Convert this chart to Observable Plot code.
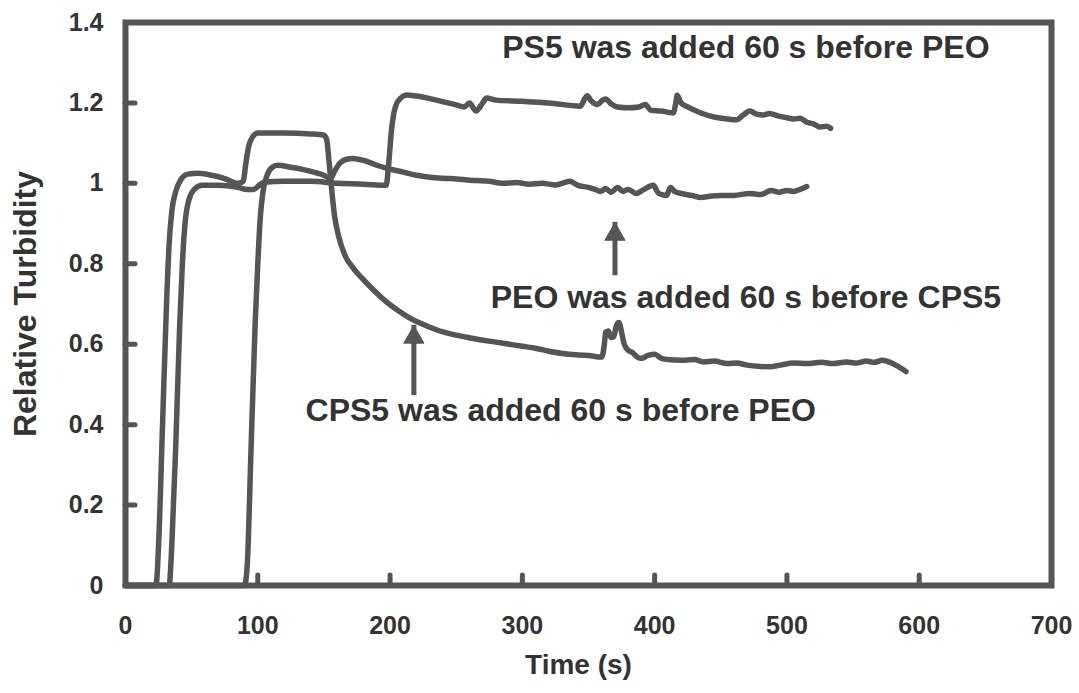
<!DOCTYPE html>
<html>
<head>
<meta charset="utf-8">
<script src="https://cdn.jsdelivr.net/npm/d3@7"></script>
<script src="https://cdn.jsdelivr.net/npm/@observablehq/plot@0.6"></script>
<style>
  html, body { margin: 0; padding: 0; background: #fff; }
  #chart svg { display: block; }
</style>
</head>
<body>
<div id="chart"></div>
<script>
// Relative turbidity traces (time in s)
const psTime  = [0, 33, 35, 38, 41, 43, 45, 48, 52, 58, 70, 85, 92, 97, 101, 105, 120, 140, 160, 180, 197, 199, 201, 204, 208, 213, 220, 235, 250, 256, 260, 265, 270, 273, 280, 300, 320, 344, 347, 349, 352, 357, 360, 363, 367, 372, 380, 388, 393, 397, 405, 414, 416, 417, 420, 425, 435, 445, 455, 462, 467, 472, 477, 482, 487, 493, 500, 505, 510, 515, 520, 525, 530, 533];
const psValue = [0, 0, 0.1, 0.35, 0.65, 0.8, 0.9, 0.96, 0.985, 0.995, 0.995, 0.99, 0.985, 0.985, 0.995, 1.003, 1.005, 1.005, 1.0, 0.998, 0.995, 1.05, 1.13, 1.19, 1.212, 1.22, 1.217, 1.207, 1.195, 1.19, 1.2, 1.18, 1.2, 1.212, 1.207, 1.204, 1.2, 1.192, 1.21, 1.218, 1.205, 1.196, 1.205, 1.21, 1.198, 1.19, 1.188, 1.19, 1.196, 1.182, 1.18, 1.175, 1.2, 1.219, 1.2, 1.19, 1.175, 1.165, 1.16, 1.158, 1.17, 1.18, 1.172, 1.17, 1.174, 1.168, 1.163, 1.16, 1.162, 1.152, 1.148, 1.14, 1.142, 1.137];

const peoTime  = [0, 90, 92, 95, 98, 100, 102, 104, 107, 111, 115, 125, 140, 150, 155, 158, 162, 167, 172, 180, 190, 198, 210, 220, 230, 245, 260, 275, 285, 296, 305, 315, 325, 336, 342, 350, 355, 359, 363, 367, 372, 376, 380, 386, 392, 399, 403, 409, 412, 415, 420, 428, 435, 442, 450, 460, 472, 480, 488, 494, 500, 505, 510, 515];
const peoValue = [0, 0, 0.05, 0.35, 0.65, 0.8, 0.92, 0.98, 1.02, 1.04, 1.045, 1.04, 1.03, 1.02, 1.012, 1.03, 1.05, 1.06, 1.062, 1.057, 1.045, 1.037, 1.028, 1.02, 1.015, 1.012, 1.008, 1.005, 1.0, 1.002, 0.998, 1.0, 0.996, 1.005, 0.995, 0.99, 0.985, 0.98, 0.987, 0.978, 0.99, 0.98, 0.985, 0.975, 0.985, 0.995, 0.975, 0.97, 0.99, 0.98, 0.975, 0.97, 0.965, 0.968, 0.97, 0.97, 0.975, 0.972, 0.982, 0.978, 0.982, 0.98, 0.985, 0.992];

const cpsTime  = [0, 23, 25, 28, 31, 33, 35, 38, 42, 47, 55, 65, 75, 85, 89, 91, 93, 96, 100, 120, 140, 150, 152, 154, 156, 158, 161, 166, 172, 180, 188, 197, 206, 214, 223, 235, 248, 262, 276, 290, 300, 310, 321, 335, 350, 360, 362, 363, 365, 367, 369, 371, 373, 375, 377, 380, 383, 387, 390, 395, 400, 405, 410, 420, 430, 437, 445, 455, 462, 470, 478, 487, 495, 505, 515, 526, 535, 545, 552, 560, 566, 572, 578, 584, 590];
const cpsValue = [0, 0, 0.1, 0.4, 0.7, 0.85, 0.93, 0.98, 1.01, 1.023, 1.025, 1.02, 1.012, 1.0, 1.005, 1.05, 1.09, 1.115, 1.125, 1.125, 1.123, 1.12, 1.11, 1.05, 0.98, 0.92, 0.87, 0.82, 0.79, 0.76, 0.733, 0.706, 0.684, 0.667, 0.652, 0.636, 0.624, 0.615, 0.607, 0.6, 0.595, 0.59, 0.582, 0.575, 0.572, 0.568, 0.6, 0.63, 0.633, 0.617, 0.618, 0.645, 0.654, 0.63, 0.6, 0.585, 0.58, 0.568, 0.565, 0.572, 0.575, 0.565, 0.562, 0.56, 0.562, 0.556, 0.558, 0.552, 0.553, 0.548, 0.545, 0.544, 0.548, 0.553, 0.552, 0.555, 0.552, 0.556, 0.553, 0.558, 0.555, 0.56, 0.555, 0.545, 0.532];

// Axis ticks
const xTickLabels = [0, 100, 200, 300, 400, 500, 600, 700];
const xTickMarks  = [100, 200, 300, 400, 500, 600];
const yTickLabels = [0, 0.2, 0.4, 0.6, 0.8, 1, 1.2, 1.4];
const yTickMarks  = [0.2, 0.4, 0.6, 0.8, 1, 1.2];

// Annotations (data coordinates) and the arrows under two of them
const noteText = ["PS5 was added 60 s before PEO", "PEO was added 60 s before CPS5", "CPS5 was added 60 s before PEO"];
const noteTime = [469, 469, 329];
const noteValue = [1.336, 0.716, 0.435];
const arrowTime = [370, 218];
const arrowFrom = [0.795, 0.497];
const arrowTip  = [0.903, 0.647];

const series = [
  {name: "PS5 then PEO", time: psTime, value: psValue},
  {name: "PEO then CPS5", time: peoTime, value: peoValue},
  {name: "CPS5 then PEO", time: cpsTime, value: cpsValue}
];
const rows = series.flatMap(s => s.time.map((t, i) => ({series: s.name, t, v: s.value[i]})));
const notes = noteText.map((text, i) => ({text, t: noteTime[i], v: noteValue[i]}));
const arrows = arrowTime.map((t, i) => ({t, from: arrowFrom[i], tip: arrowTip[i]}));

const W = 1079, H = 693;
const mL = 125, mR = 28, mT = 22, mB = 108;
const innerW = W - mL - mR, innerH = H - mT - mB;
const ink = "#555555";
const textInk = "#333333";
const tickLen = 10;
const font = "'Liberation Sans', Arial, Helvetica, sans-serif";

const chart = Plot.plot({
  width: W,
  height: H,
  marginLeft: mL,
  marginRight: mR,
  marginTop: mT,
  marginBottom: mB,
  style: {
    fontFamily: font,
    fontWeight: "bold",
    fontSize: "25px",
    color: textInk,
    background: "#fff",
    overflow: "visible"
  },
  x: {domain: [0, 700]},
  y: {domain: [0, 1.4]},
  marks: [
    Plot.axisX({ticks: xTickLabels, tickSize: 0, tickPadding: 31, label: null, fill: textInk,
      fontSize: 25, fontWeight: "bold"}),
    Plot.axisY({ticks: yTickLabels, tickSize: 0, tickPadding: 22, label: null, fill: textInk,
      fontSize: 25, fontWeight: "bold", tickFormat: d => `${+d.toFixed(1)}`}),
    // inward tick marks
    Plot.tickX(xTickMarks, {x: d => d, insetTop: innerH - tickLen, stroke: ink, strokeWidth: 5, strokeLinecap: "round"}),
    Plot.tickY(yTickMarks, {y: d => d, insetRight: innerW - tickLen, stroke: ink, strokeWidth: 5, strokeLinecap: "round"}),
    Plot.line(rows, {
      x: "t", y: "v", z: "series",
      stroke: ink, strokeWidth: 5.5, curve: "monotone-x",
      strokeLinejoin: "round", strokeLinecap: "round"
    }),
    Plot.frame({stroke: ink, strokeWidth: 6}),
    Plot.ruleX(arrows, {x: "t", y1: "from", y2: "tip", insetTop: 10, stroke: ink, strokeWidth: 5}),
    Plot.dot(arrows, {x: "t", y: "tip", symbol: "triangle", r: 7.5, fill: ink, stroke: ink, strokeWidth: 1, dy: 12}),
    Plot.text(notes, {x: "t", y: "v", text: "text", fontSize: 32, fontWeight: "bold", fill: textInk}),
    Plot.text(["Relative Turbidity"], {frameAnchor: "left", textAnchor: "middle", dx: -100, rotate: -90,
      fontSize: 32, fontWeight: "bold", fill: textInk}),
    Plot.text(["Time (s)"], {frameAnchor: "bottom", textAnchor: "middle", dx: -10, dy: 88,
      fontSize: 28, fontWeight: "bold", fill: textInk})
  ]
});

document.getElementById("chart").append(chart);
</script>
</body>
</html>
